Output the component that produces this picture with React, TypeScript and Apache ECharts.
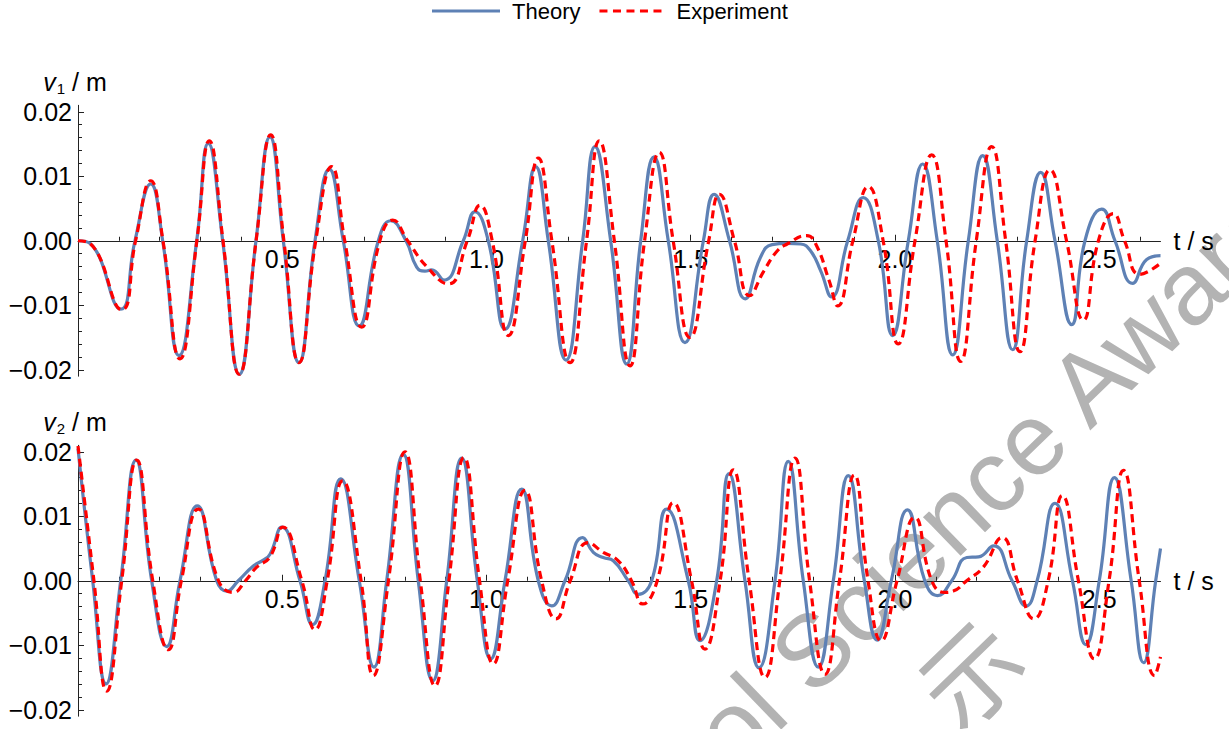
import React, { useEffect, useRef } from 'react';
import * as echarts from 'echarts';

// ---------- data (t in s, v in m) ----------
const theoryV1: [number, number][] = [
  [0, 0], [0.029, -0.0004], [0.1045, -0.0106], [0.1395, 0], [0.178, 0.0088], [0.2073, 0],
  [0.2472, -0.0178], [0.2906, 0], [0.319, 0.0151], [0.3542, 0], [0.3949, -0.0207], [0.4357, 0],
  [0.47, 0.0161], [0.5026, 0], [0.541, -0.0189], [0.5802, 0], [0.6152, 0.0111], [0.6494, 0],
  [0.6886, -0.0132], [0.7351, 0], [0.7655, 0.0031], [0.8029, 0], [0.8291, -0.0041],
  [0.8494, -0.0047], [0.8659, -0.0045], [0.896, -0.0061], [0.9432, 0], [0.9718, 0.0045],
  [1.0044, 0], [1.0453, -0.0137], [1.0886, 0], [1.1204, 0.0115], [1.1513, 0], [1.1946, -0.0185],
  [1.2355, 0], [1.2656, 0.0146], [1.304, 0], [1.3432, -0.0191], [1.3775, 0], [1.41, 0.013],
  [1.445, 0], [1.4859, -0.0158], [1.531, 0], [1.5572, 0.0072], [1.5949, 0], [1.6335, -0.009],
  [1.6705, -0.0026], [1.6991, -0.0006], [1.7361, -0.0004], [1.7691, -0.0005], [1.7936, -0.0016],
  [1.8184, -0.0047], [1.8446, -0.0087], [1.8842, 0], [1.9224, 0.0067], [1.9591, 0],
  [1.9943, -0.0147], [2.0326, 0], [2.0678, 0.0119], [2.1035, 0], [2.1412, -0.0177], [2.1795, 0],
  [2.2147, 0.0132], [2.2504, 0], [2.2881, -0.0169], [2.3224, 0], [2.3567, 0.0106], [2.3917, 0],
  [2.4326, -0.013], [2.4651, 0], [2.506, 0.0049], [2.5386, 0], [2.5819, -0.0066],
  [2.6162, -0.0029], [2.65, -0.0023],
];

const experimentV1: [number, number][] = [
  [0, 0], [0.029, -0.0004], [0.107, -0.0107], [0.141, 0], [0.178, 0.0093], [0.208, 0],
  [0.2497, -0.0183], [0.291, 0], [0.3214, 0.0155], [0.355, 0], [0.3949, -0.0207], [0.436, 0],
  [0.4717, 0.0164], [0.504, 0], [0.541, -0.0189], [0.582, 0], [0.621, 0.0115], [0.653, 0],
  [0.6945, -0.0134], [0.739, 0], [0.7704, 0.0032], [0.807, 0], [0.8536, -0.004],
  [0.9065, -0.0067], [0.953, 0], [0.9841, 0.0055], [1.014, 0], [1.0534, -0.0147], [1.095, 0],
  [1.1268, 0.0128], [1.16, 0], [1.2044, -0.0189], [1.245, 0], [1.2761, 0.0155], [1.313, 0],
  [1.3513, -0.0194], [1.387, 0], [1.423, 0.0137], [1.457, 0], [1.4982, -0.015], [1.544, 0],
  [1.5704, 0.0072], [1.607, 0], [1.6443, -0.0085], [1.6789, -0.0047], [1.7116, -0.0016],
  [1.7361, -0.0005], [1.7838, 0.0008], [1.806, -0.0005], [1.8389, -0.0062], [1.8595, -0.0101],
  [1.897, 0], [1.9347, 0.0084], [1.971, 0], [2.008, -0.016], [2.049, 0], [2.0898, 0.0133],
  [2.125, 0], [2.1608, -0.0187], [2.199, 0], [2.2367, 0.0146], [2.271, 0], [2.306, -0.0172],
  [2.343, 0], [2.3795, 0.011], [2.42, 0], [2.461, -0.0123], [2.498, 0], [2.5344, 0.0042],
  [2.562, 0], [2.5998, -0.0052], [2.65, -0.0035],
];

const theoryV2: [number, number][] = [
  [0, 0.0205], [0.036, 0], [0.0685, -0.016], [0.1045, 0], [0.142, 0.0187], [0.1804, 0],
  [0.2171, -0.0102], [0.2497, 0], [0.292, 0.0116], [0.3395, 0], [0.364, -0.0016], [0.3924, 0],
  [0.4291, 0.0023], [0.4536, 0.0032], [0.47, 0.0041], [0.4987, 0.0083], [0.5435, 0],
  [0.5745, -0.0068], [0.6047, 0], [0.6431, 0.0158], [0.6886, 0], [0.7246, -0.0134], [0.7557, 0],
  [0.7963, 0.0196], [0.833, 0], [0.8683, -0.0155], [0.9026, 0], [0.9393, 0.019], [0.9775, 0],
  [1.0103, -0.0121], [1.0453, 0], [1.0862, 0.0142], [1.1268, 0], [1.1596, -0.0039], [1.1922, 0],
  [1.2355, 0.0067], [1.2615, 0.0044], [1.2859, 0.0036], [1.3104, 0.0031], [1.347, 0],
  [1.3716, -0.0021], [1.4044, 0], [1.4411, 0.0111], [1.494, 0], [1.5226, -0.0093], [1.5635, 0],
  [1.5937, 0.0166], [1.6328, 0], [1.6671, -0.0135], [1.7063, 0], [1.7388, 0.0185], [1.7755, 0],
  [1.8123, -0.0134], [1.849, 0], [1.8857, 0.0163], [1.925, 0], [1.9564, -0.0092], [1.991, 0],
  [2.0304, 0.011], [2.073, 0], [2.1043, -0.0023], [2.1388, 0], [2.1758, 0.0036],
  [2.2044, 0.0037], [2.2414, 0.0054], [2.2867, 0], [2.321, -0.0039], [2.348, 0],
  [2.3917, 0.012], [2.4345, 0], [2.4673, -0.0099], [2.5001, 0], [2.5371, 0.016], [2.5782, 0],
  [2.6086, -0.0127], [2.6382, 0], [2.65, 0.005],
];

const experimentV2: [number, number][] = [
  [0, 0.0209], [0.039, 0], [0.0703, -0.0171], [0.107, 0], [0.1437, 0.0187], [0.183, 0],
  [0.2211, -0.0107], [0.253, 0], [0.2945, 0.0111], [0.344, 0], [0.3802, -0.0018], [0.41, 0],
  [0.4374, 0.0021], [0.47, 0.0037], [0.5011, 0.0083], [0.548, 0], [0.5802, -0.0076], [0.61, 0],
  [0.648, 0.0155], [0.693, 0], [0.7229, -0.0147], [0.76, 0], [0.8005, 0.02], [0.838, 0],
  [0.8739, -0.0163], [0.908, 0], [0.9449, 0.0191], [0.983, 0], [1.0166, -0.0129], [1.052, 0],
  [1.0942, 0.014], [1.135, 0], [1.1701, -0.0059], [1.205, 0], [1.2492, 0.0059],
  [1.2859, 0.0044], [1.3226, 0.0031], [1.355, 0], [1.3824, -0.0036], [1.418, 0],
  [1.4573, 0.0121], [1.502, 0], [1.5349, -0.0106], [1.572, 0], [1.6042, 0.0172], [1.643, 0],
  [1.6818, -0.015], [1.718, 0], [1.7552, 0.019], [1.791, 0], [1.8287, -0.0145], [1.864, 0],
  [1.9006, 0.0164], [1.934, 0], [1.9662, -0.0093], [2.005, 0], [2.0485, 0.0098], [2.09, 0],
  [2.1224, -0.0018], [2.1427, -0.0016], [2.1755, 0], [2.2162, 0.0021], [2.262, 0.0067],
  [2.3, 0], [2.34, -0.0059], [2.375, 0], [2.4098, 0.0132], [2.449, 0], [2.4879, -0.0121],
  [2.524, 0], [2.5594, 0.0171], [2.598, 0], [2.6357, -0.0147], [2.65, -0.0118],
];

const xTickValues = [0.5, 1.0, 1.5, 2.0, 2.5];
const yTickValues = [-0.02, -0.01, 0, 0.01, 0.02];
const legendNames = ['Theory', 'Experiment'];
const panelSubscripts = ['1', '2'];
const watermarkText = 'School Science Award';
const watermarkText2 = '示';

// ---------- styles ----------
const FONT = '"Liberation Sans", Arial, Helvetica, sans-serif';
const BLUE = '#5E81B5';
const RED = '#FF0000';
const AXIS = '#222222';
const GRID_H = 270.9;
const SOLID_ICON = 'path://M0,0H68V3H0Z';
const DASH_ICON =
  'path://M0,0H8V3H0Z M13.5,0H21.5V3H13.5Z M27,0H35V3H27Z M40.5,0H48.5V3H40.5Z M54,0H62V3H54Z';

function makeXAxis(gridIndex: number) {
  return {
    type: 'value',
    gridIndex,
    position: 'bottom',
    offset: -GRID_H / 2,
    min: 0,
    max: 2.65,
    interval: 0.5,
    name: 't / s',
    nameLocation: 'end',
    nameGap: 13,
    nameTextStyle: { fontSize: 25, fontFamily: FONT, color: '#000', align: 'left', verticalAlign: 'middle' },
    axisLine: { show: true, onZero: false, lineStyle: { color: AXIS, width: 1 } },
    axisTick: { show: true, inside: true, length: 6, customValues: xTickValues, lineStyle: { color: AXIS, width: 1 } },
    minorTick: { show: true, splitNumber: 5, length: 4, lineStyle: { color: AXIS, width: 1 } },
    axisLabel: {
      customValues: xTickValues,
      formatter: (v: number) => v.toFixed(1),
      fontSize: 25,
      fontFamily: FONT,
      color: '#000',
      margin: 6,
    },
    splitLine: { show: false },
  };
}

function makeYAxis(gridIndex: number, sub: string) {
  return {
    type: 'value',
    gridIndex,
    min: -0.021,
    max: 0.021,
    name: `{v|v}{s|${sub}}{n| / m}`,
    nameLocation: 'end',
    nameGap: 8,
    nameTextStyle: {
      align: 'center',
      verticalAlign: 'bottom',
      padding: [0, 6, 0, 0],
      rich: {
        v: { fontSize: 25, fontStyle: 'italic', fontFamily: FONT, color: '#000', lineHeight: 30 },
        s: { fontSize: 15, fontFamily: FONT, color: '#000', lineHeight: 15, padding: [12, 0, 0, 1] },
        n: { fontSize: 25, fontFamily: FONT, color: '#000', lineHeight: 30 },
      },
    },
    axisLine: { show: true, onZero: false, lineStyle: { color: AXIS, width: 1 } },
    axisTick: { show: true, inside: true, length: 6, customValues: yTickValues, lineStyle: { color: AXIS, width: 1 } },
    minorTick: { show: true, splitNumber: 5, length: 4, lineStyle: { color: AXIS, width: 1 } },
    axisLabel: {
      customValues: yTickValues,
      formatter: (v: number) => (v < -1e-9 ? '\u2212' : '') + Math.abs(v).toFixed(2),
      fontSize: 25,
      fontFamily: FONT,
      color: '#000',
      margin: 6,
    },
    splitLine: { show: false },
  };
}

function lineSeries(name: string, data: [number, number][], idx: number) {
  const isTheory = name === 'Theory';
  return {
    type: 'line',
    name,
    xAxisIndex: idx,
    yAxisIndex: idx,
    data,
    symbol: 'none',
    showSymbol: false,
    smooth: 0.5,
    clip: false,
    z: isTheory ? 2 : 3,
    lineStyle: isTheory
      ? { color: BLUE, width: 3.2 }
      : { color: RED, width: 3.2, type: [8, 5] },
    itemStyle: { color: isTheory ? BLUE : RED },
  };
}

export default function App() {
  const ref = useRef<HTMLDivElement>(null);

  useEffect(() => {
    if (!ref.current) return;
    const chart = echarts.init(ref.current, undefined, { renderer: 'svg' });
    const deg = (44 * Math.PI) / 180;
    chart.setOption({
      animation: false,
      backgroundColor: '#ffffff',
      graphic: [
        {
          type: 'text',
          x: 544,
          y: 910,
          rotation: deg,
          z: -10,
          silent: true,
          style: {
            text: watermarkText,
            fill: '#b3b3b3',
            fontSize: 102,
            fontFamily: FONT,
            textAlign: 'left',
            textVerticalAlign: 'middle',
          },
        },
        {
          type: 'text',
          x: 967,
          y: 670,
          rotation: deg,
          z: -10,
          silent: true,
          style: {
            text: watermarkText2,
            fill: '#b3b3b3',
            fontSize: 100,
            fontFamily: '"Noto Sans CJK SC", sans-serif',
            textAlign: 'center',
            textVerticalAlign: 'middle',
          },
        },
      ],
      legend: {
        data: [
          { name: legendNames[0], icon: SOLID_ICON, itemStyle: { color: BLUE } },
          { name: legendNames[1], icon: DASH_ICON, itemStyle: { color: RED } },
        ],
        left: 432,
        top: 0,
        padding: 0,
        itemWidth: 68,
        itemHeight: 3,
        itemGap: 19,
        textStyle: { fontSize: 22, fontFamily: FONT, color: '#000', padding: [0, 0, 0, 7] },
      },
      grid: [
        { left: 78, top: 105.3, width: 1082.5, height: GRID_H, containLabel: false },
        { left: 78, top: 445.3, width: 1082.5, height: GRID_H, containLabel: false },
      ],
      xAxis: [makeXAxis(0), makeXAxis(1)],
      yAxis: [makeYAxis(0, panelSubscripts[0]), makeYAxis(1, panelSubscripts[1])],
      series: [
        lineSeries('Theory', theoryV1, 0),
        lineSeries('Experiment', experimentV1, 0),
        lineSeries('Theory', theoryV2, 1),
        lineSeries('Experiment', experimentV2, 1),
      ],
    });
    return () => chart.dispose();
  }, []);

  return (
    <div
      ref={ref}
      style={{ position: 'fixed', left: 0, top: 0, width: 1229, height: 729, background: '#fff' }}
    />
  );
}
